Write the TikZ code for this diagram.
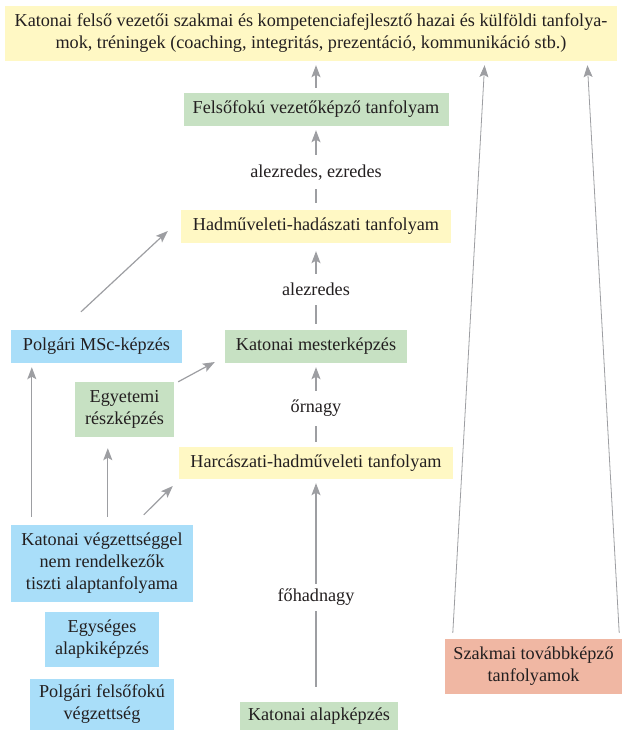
\documentclass[tikz,border=0pt]{standalone}
\usepackage{fontspec}
\setmainfont{Liberation Serif}
\usetikzlibrary{arrows.meta}
\definecolor{sarga}{HTML}{FFF8C4}
\definecolor{zold}{HTML}{C7E1C3}
\definecolor{kek}{HTML}{A9DEF9}
\definecolor{lazac}{HTML}{F0B7A3}
\definecolor{nyilszurke}{HTML}{9D9EA2}
\definecolor{szoveg}{HTML}{231F20}
\tikzset{
  doboz/.style={inner sep=0pt, align=center, text=szoveg, font=\fontsize{18.2}{22}\selectfont},
  sargadoboz/.style={doboz, fill=sarga},
  zolddoboz/.style={doboz, fill=zold},
  kekdoboz/.style={doboz, fill=kek},
  lazacdoboz/.style={doboz, fill=lazac},
  nyil/.style={draw=nyilszurke, line width=1.2pt, -{Stealth[length=12pt,width=9pt,inset=2.5pt]}},
  cimke/.style={fill=white, inner xsep=3pt, inner ysep=9pt, text=szoveg, font=\fontsize{18.2}{22}\selectfont}
}
\begin{document}
\begin{tikzpicture}[x=1pt,y=-1pt]
\useasboundingbox (0,0) rectangle (623,730);
\def\kozep{316}

% felso szint
\node[sargadoboz, minimum width=612, minimum height=55] (felso) at (311,33.5)
  {Katonai felső vezetői szakmai és kompetenciafejlesztő hazai és külföldi tanfolya-\\mok, tréningek (coaching, integritás, prezentáció, kommunikáció stb.)};

% kozepso oszlop
\node[zolddoboz, minimum width=265, minimum height=33] (vezk) at (\kozep,109.5) {Felsőfokú vezetőképző tanfolyam};
\node[sargadoboz, minimum width=270, minimum height=33] (hadm) at (\kozep,226.5) {Hadműveleti-hadászati tanfolyam};
\node[zolddoboz, minimum width=182, minimum height=33] (mester) at (\kozep,346.5) {Katonai mesterképzés};
\node[sargadoboz, minimum width=274, minimum height=32] (harc) at (\kozep,463) {Harcászati-hadműveleti tanfolyam};
\node[zolddoboz, minimum width=158, minimum height=28] (alap) at (319,716) {Katonai alapképzés};

% bal oszlop
\node[kekdoboz, minimum width=171, minimum height=33] (msc) at (96.5,346.5) {Polgári MSc-képzés};
\node[zolddoboz, minimum width=99, minimum height=55] (egyet) at (124.5,409.5) {Egyetemi\\részképzés};
\node[kekdoboz, minimum width=182, minimum height=77] (nemkat) at (102,563.5) {Katonai végzettséggel\\nem rendelkezők\\tiszti alaptanfolyama};
\node[kekdoboz, minimum width=114, minimum height=55] (egys) at (102,639.5) {Egységes\\alapkiképzés};
\node[kekdoboz, minimum width=144, minimum height=51] (polg) at (102,704.5) {Polgári felsőfokú\\végzettség};

% jobb oldal
\node[lazacdoboz, minimum width=177, minimum height=55] (szakm) at (533.5,666.5) {Szakmai továbbképző\\tanfolyamok};

% nyilak a kozepso oszlopban
\draw[nyil, shorten <=5pt, shorten >=4pt] (vezk.north) -- (felso.south -| vezk.north);
\draw[nyil, shorten <=7pt, shorten >=4pt] (hadm.north) -- node[cimke, pos=0.45] (c1) {alezredes, ezredes} (vezk.south);
\draw[nyil, shorten <=6pt, shorten >=8pt] (mester.north) -- node[cimke, pos=0.47] (c2) {alezredes} (hadm.south);
\draw[nyil, shorten <=5pt, shorten >=4pt] (harc.north) -- node[cimke, pos=0.46] (c3) {őrnagy} (mester.south);
\draw[nyil, shorten <=15pt, shorten >=4pt] (alap.north -| harc.south) -- node[cimke, pos=0.47, inner ysep=5pt] (c4) {főhadnagy} (harc.south);

% nyilak a bal oldalon
\draw[nyil, shorten >=4pt] ([xshift=21pt,yshift=8pt]nemkat.north west) -- ([xshift=21pt]msc.south west);
\draw[nyil] ([xshift=97pt,yshift=8pt]nemkat.north west) -- ([xshift=33pt,yshift=-11pt]egyet.south west);
\draw[nyil] ([xshift=133pt,yshift=10pt]nemkat.north west) -- ([xshift=-6pt,yshift=-23pt]harc.west);
\draw[nyil] ([xshift=4pt]egyet.north east) -- ([xshift=-10pt,yshift=-15.5pt]mester.west);
\draw[nyil] ([xshift=-15.5pt,yshift=18pt]msc.north) -- ([xshift=-13pt,yshift=-4.5pt]hadm.west);

% nyilak a szakmai tovabbkepzestol
\draw[nyil, line width=0.8pt, shorten >=4pt] ([xshift=8pt,yshift=6pt]szakm.north west) -- ([xshift=480pt]felso.south west);
\draw[nyil, line width=0.8pt, shorten >=4pt] ([xshift=-3pt,yshift=6pt]szakm.north east) -- ([xshift=-30pt]felso.south east);
\end{tikzpicture}
\end{document}
